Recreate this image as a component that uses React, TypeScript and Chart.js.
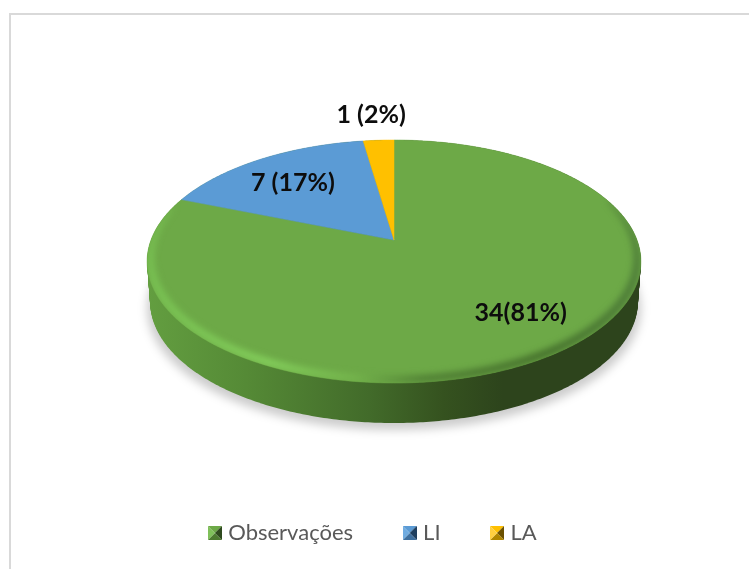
import React, { useEffect, useRef } from "react";
import { Chart, registerables } from "chart.js";

Chart.register(...registerables);

const categories = ["Observações", "LI", "LA"];
const values = [34, 7, 1];
const sliceLabels = ["34(81%)", "7 (17%)", "1 (2%)"];
const sliceColors = ["#6da947", "#5b9bd5", "#ffc000"];
const markerLight = ["#7fc05a", "#6fabe0", "#ffcf40"];
const markerDark = ["#2f4a1e", "#1f3f5f", "#6b5000"];
const markerMid = ["#4d7a30", "#3e6f9e", "#b08600"];

// perspective projection of the pie disc onto the page
const APEX_X = 394;
const APEX_Y = 240;
const PERSP = 0.177;
const RAD_X = 243;
const RAD_Y = 117.7;
const DEPTH = 40;
const LABEL_FACTORS = [
  [0.79, 0.64],
  [0.76, 0.7],
  [1.48, 1.25],
];

function project(theta: number, f = 1): [number, number] {
  const u = Math.sin(theta) * f;
  const v = Math.cos(theta) * f;
  const w = 1 + PERSP * v;
  return [APEX_X + (RAD_X * u) / w, APEX_Y - (RAD_Y * v) / w];
}

function rimPath(ctx: CanvasRenderingContext2D, from: number, to: number, dy = 0, sx = 1, move = true) {
  const steps = Math.max(4, Math.ceil(Math.abs(to - from) * 90));
  for (let i = 0; i <= steps; i++) {
    const t = from + ((to - from) * i) / steps;
    const [x, y] = project(t);
    const px = APEX_X + (x - APEX_X) * sx;
    if (i === 0 && move) ctx.moveTo(px, y + dy);
    else ctx.lineTo(px, y + dy);
  }
}

function makeMarker(i: number): HTMLCanvasElement {
  const c = document.createElement("canvas");
  c.width = 14;
  c.height = 14;
  const g = c.getContext("2d")!;
  const tri = (col: string, pts: number[]) => {
    g.fillStyle = col;
    g.beginPath();
    g.moveTo(pts[0], pts[1]);
    g.lineTo(pts[2], pts[3]);
    g.lineTo(7, 7);
    g.closePath();
    g.fill();
  };
  tri(sliceColors[i], [0, 0, 14, 0]);
  tri(markerDark[i], [14, 0, 14, 14]);
  tri(markerMid[i], [0, 14, 14, 14]);
  tri(markerLight[i], [0, 0, 0, 14]);
  return c;
}

const frame = {
  id: "frame",
  beforeDraw(chart: any) {
    const ctx = chart.ctx;
    ctx.save();
    ctx.fillStyle = "#d9d9d9";
    ctx.fillRect(9, 13, 2, 556);
    ctx.fillRect(9, 13, 740, 2);
    ctx.restore();
  },
};

const pie3d = {
  id: "pie3d",
  beforeDatasetsDraw(chart: any) {
    const ctx: CanvasRenderingContext2D = chart.ctx;
    const arcs = chart.getDatasetMeta(0).data;
    const TAU = Math.PI * 2;

    // soft shadow
    ctx.save();
    ctx.filter = "blur(5px)";
    ctx.fillStyle = "rgba(0,0,0,0.2)";
    ctx.beginPath();
    rimPath(ctx, 0, TAU, DEPTH + 7, 1.0);
    ctx.closePath();
    ctx.fill();
    ctx.restore();

    // side wall
    const side = ctx.createLinearGradient(147, 0, 641, 0);
    side.addColorStop(0, "#639e40");
    side.addColorStop(0.2, "#558a36");
    side.addColorStop(0.45, "#426b2a");
    side.addColorStop(0.6, "#35521f");
    side.addColorStop(0.72, "#2d441c");
    side.addColorStop(1, "#2d441c");
    ctx.fillStyle = side;
    for (let d = DEPTH; d >= 0; d -= 1) {
      ctx.beginPath();
      rimPath(ctx, 0, TAU, d, 1 - (0.012 * d) / DEPTH);
      ctx.closePath();
      ctx.fill();
    }

    // top face
    arcs.forEach((arc: any, i: number) => {
      const a = arc.startAngle + Math.PI / 2;
      const b = arc.endAngle + Math.PI / 2;
      ctx.fillStyle = sliceColors[i];
      ctx.beginPath();
      ctx.moveTo(APEX_X, APEX_Y);
      rimPath(ctx, a, b, 0, 1, false);
      ctx.closePath();
      ctx.fill();
      ctx.strokeStyle = sliceColors[i];
      ctx.lineWidth = 0.5;
      ctx.stroke();
    });

    // rim bevel: a band along the front of the rim that tapers out at both ends
    ctx.save();
    ctx.beginPath();
    rimPath(ctx, 0, TAU);
    ctx.closePath();
    ctx.clip();
    const bevel = ctx.createLinearGradient(147, 0, 641, 0);
    bevel.addColorStop(0, "#78c052");
    bevel.addColorStop(0.25, "#84d05c");
    bevel.addColorStop(0.42, "#74b44c");
    bevel.addColorStop(0.56, "#507f34");
    bevel.addColorStop(0.8, "#45702c");
    bevel.addColorStop(1, "#50803a");
    ctx.filter = "blur(3px)";
    ctx.fillStyle = bevel;
    const from = Math.PI * 0.38;
    const to = Math.PI * 1.6;
    ctx.beginPath();
    rimPath(ctx, from, to);
    const n = 160;
    for (let i = n; i >= 0; i--) {
      const k = i / n;
      const t = from + (to - from) * k;
      const env = Math.pow(Math.sin(k * Math.PI), 0.45);
      const [x, y] = project(t, 1 - 0.042 * env);
      ctx.lineTo(x, y);
    }
    ctx.closePath();
    ctx.fill();
    ctx.restore();

    // the default flat arcs are replaced by the projected ones above
    return false;
  },
  afterDraw(chart: any) {
    const ctx: CanvasRenderingContext2D = chart.ctx;
    const arcs = chart.getDatasetMeta(0).data;
    ctx.save();
    ctx.font = "bold 25px Lato";
    ctx.fillStyle = "#0d0d0d";
    ctx.textAlign = "center";
    ctx.textBaseline = "middle";
    arcs.forEach((arc: any, i: number) => {
      const mid = (arc.startAngle + arc.endAngle) / 2 + Math.PI / 2;
      const [x, y] = project(mid);
      const [fx, fy] = LABEL_FACTORS[i];
      ctx.fillText(sliceLabels[i], APEX_X + (x - APEX_X) * fx, APEX_Y + (y - APEX_Y) * fy);
    });
    ctx.restore();
  },
};

export default function App() {
  const ref = useRef<HTMLCanvasElement>(null);
  useEffect(() => {
    const chart = new Chart(ref.current!, {
      type: "pie",
      data: {
        labels: categories,
        datasets: [{ data: values, backgroundColor: sliceColors, borderWidth: 0 }],
      },
      options: {
        responsive: false,
        animation: false,
        layout: { padding: { bottom: 15 } },
        plugins: {
          tooltip: { enabled: false },
          legend: {
            position: "bottom",
            labels: {
              usePointStyle: true,
              pointStyleWidth: 5,
              padding: 54,
              color: "#595959",
              font: { family: "Lato", size: 22 },
              generateLabels: () =>
                categories.map((text, i) => ({
                  text,
                  fillStyle: sliceColors[i],
                  strokeStyle: sliceColors[i],
                  fontColor: "#595959",
                  pointStyle: makeMarker(i),
                  lineWidth: 0,
                  hidden: false,
                  index: i,
                })),
            },
          },
        },
      } as any,
      plugins: [frame, pie3d],
    });
    return () => chart.destroy();
  }, []);
  return (
    <div style={{ position: "absolute", left: 0, top: 0, width: 749, height: 569 }}>
      <canvas ref={ref} width={749} height={569} style={{ display: "block" }} />
    </div>
  );
}
